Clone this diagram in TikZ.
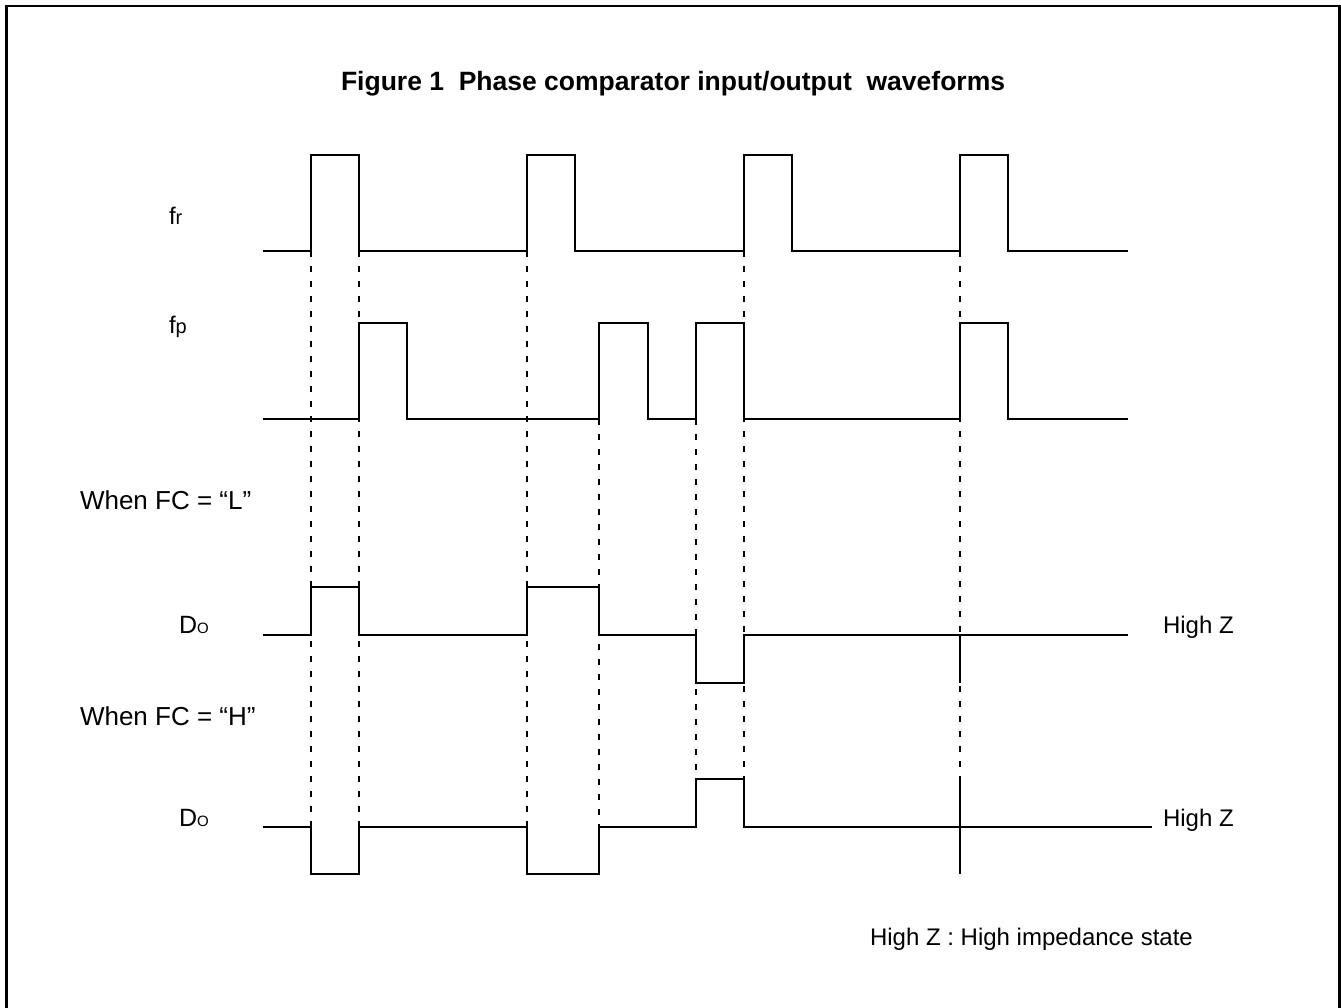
\documentclass[tikz,border=0pt]{standalone}
\usepackage{fontspec}
\setmainfont{Liberation Sans}
\newcommand\fsz[1]{\fontsize{#1}{#1}\selectfont}
\begin{document}
\begin{tikzpicture}[x=1pt,y=-1pt,
  wave/.style={line width=2pt, line join=miter, line cap=butt},
  guide/.style={line width=1.6pt, dash pattern=on 6pt off 9pt},
  lbl/.style={anchor=base west, inner sep=0pt, outer sep=0pt}]
\useasboundingbox (0,0) rectangle (1341,1008);
% frame
\draw[line width=2.4pt] (6.5,1008) -- (6.5,6) -- (1339.5,6) -- (1339.5,1008);
% title
\node[lbl, font=\bfseries\fsz{26.5}] (title) at (341,91) {Figure 1\ \ Phase comparator input/output\ \ waveforms};
% labels
\node[lbl, font=\fsz{24}] (lfr) at (169,225) {f{\fsz{20}r}};
\node[lbl, font=\fsz{24}] (lfp) at (169,333) {f{\fsz{20}p}};
\node[lbl, font=\fsz{26}] (wl) at (80,509) {When FC = “L”};
\node[lbl, font=\fsz{26}] (wh) at (80,725) {When FC = “H”};
\node[lbl, font=\fsz{25}] (dol) at (179,633) {D{\fsz{15}O}};
\node[lbl, font=\fsz{25}] (doh) at (179,826) {D{\fsz{15}O}};
\node[lbl, font=\fsz{24}] (hzl) at (1163,633) {High Z};
\node[lbl, font=\fsz{24}] (hzh) at (1163,826) {High Z};
\node[lbl, font=\fsz{24}] (note) at (870,945) {High Z : High impedance state};
% guide lines
\draw[guide] (311,251) -- (311,827);
\draw[guide] (359,251) -- (359,827);
\draw[guide] (527,251) -- (527,827);
\draw[guide] (599,419) -- (599,827);
\draw[guide] (696,419) -- (696,779);
\draw[guide] (744,251) -- (744,779);
\draw[guide] (960,251) -- (960,779);
% fr
\draw[wave] (263,251) -- (311,251) -- (311,155) -- (359,155) -- (359,251) -- (527,251) -- (527,155) -- (575,155) -- (575,251) -- (744,251) -- (744,155) -- (792,155) -- (792,251) -- (960,251) -- (960,155) -- (1008,155) -- (1008,251) -- (1128,251);
% fp
\draw[wave] (263,419) -- (359,419) -- (359,323) -- (407,323) -- (407,419) -- (599,419) -- (599,323) -- (648,323) -- (648,419) -- (696,419) -- (696,323) -- (744,323) -- (744,419) -- (960,419) -- (960,323) -- (1008,323) -- (1008,419) -- (1128,419);
% Do, FC = L
\draw[wave] (263,635) -- (311,635) -- (311,587) -- (359,587) -- (359,635) -- (527,635) -- (527,587) -- (599,587) -- (599,635) -- (696,635) -- (696,683) -- (744,683) -- (744,635) -- (1128,635);
\draw[wave] (960,635) -- (960,683);
% Do, FC = H
\draw[wave] (263,827) -- (311,827) -- (311,874) -- (359,874) -- (359,827) -- (527,827) -- (527,874) -- (599,874) -- (599,827) -- (696,827) -- (696,779) -- (744,779) -- (744,827) -- (1152,827);
\draw[wave] (960,779) -- (960,874);
\end{tikzpicture}
\end{document}
